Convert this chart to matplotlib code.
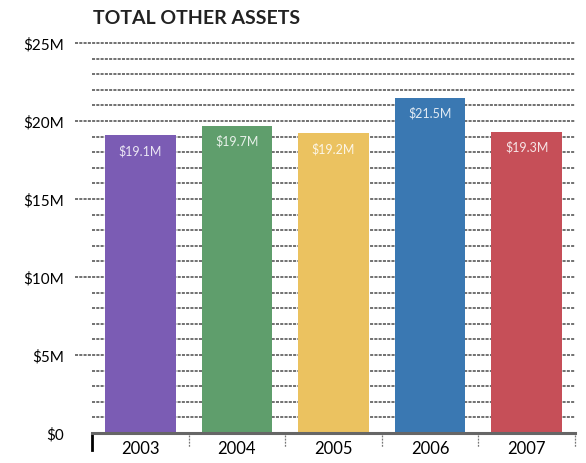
import matplotlib
matplotlib.use("Agg")
import matplotlib.pyplot as plt
import matplotlib.transforms as mtransforms

years = ["2003", "2004", "2005", "2006", "2007"]
values = [19.1, 19.7, 19.2, 21.5, 19.3]
labels = ["$19.1M", "$19.7M", "$19.2M", "$21.5M", "$19.3M"]
colors = ["#7b5cb4", "#5f9e6c", "#ebc260", "#3a78b2", "#c64f58"]
yticks = [0, 5, 10, 15, 20, 25]
ytick_labels = ["$0", "$5M", "$10M", "$15M", "$20M", "$25M"]

plt.rcParams['font.family'] = ['Lato', 'DejaVu Sans']

fig = plt.figure(figsize=(5.86, 4.64), dpi=100)
ax = fig.add_axes([92/586, 30/464, 483/586, 390/464])
ax.set_xlim(-0.5, 4.5)
ax.set_ylim(0, 25)

grid_kw = dict(color="#4a4a4a", lw=1.1, ls=(0, (2.0, 0.8)), zorder=0)
trans = mtransforms.blended_transform_factory(ax.transAxes, ax.transData)
for v in range(1, 26):
    if v % 5 == 0:
        ax.plot([-0.035, 1.0], [v, v], transform=trans, clip_on=False, **grid_kw)
    else:
        ax.plot([0.0, 1.0], [v, v], transform=trans, clip_on=False, **grid_kw)

x = list(range(len(years)))
ax.bar(x, values, width=0.73, color=colors, zorder=2)
for xi, v, lab in zip(x, values, labels):
    ax.text(xi, v - 0.55, lab, ha="center", va="top", color="white",
            fontsize=9, alpha=0.85, zorder=3)

# baseline
ax.plot([0, 1], [0, 0], transform=trans, color="#666666", lw=2.2,
        clip_on=False, zorder=3)

# category separators below the axis
sep_trans = mtransforms.blended_transform_factory(ax.transData, ax.transAxes)
for i, b in enumerate([-0.5, 0.5, 1.5, 2.5, 3.5, 4.5]):
    if i == 0:
        ax.plot([b, b], [0, -0.043], transform=sep_trans, color="black",
                lw=2, clip_on=False)
    else:
        ax.plot([b, b], [-0.005, -0.037], transform=sep_trans, color="#777777",
                lw=0.9, ls=(0, (1.5, 1)), clip_on=False)

for s in ax.spines.values():
    s.set_visible(False)
ax.set_xticks(x)
ax.set_xticklabels(years, fontsize=12)
ax.tick_params(axis="x", length=0, pad=5)
ax.set_yticks(yticks)
ax.set_yticklabels(ytick_labels, fontsize=11)
ax.tick_params(axis="y", length=0, pad=20)

fig.text(93/586, 1 - 18/464, "TOTAL OTHER ASSETS", fontsize=14,
         fontweight="bold", ha="left", va="center", color="#222222")

fig.savefig("out.png", dpi=100)
